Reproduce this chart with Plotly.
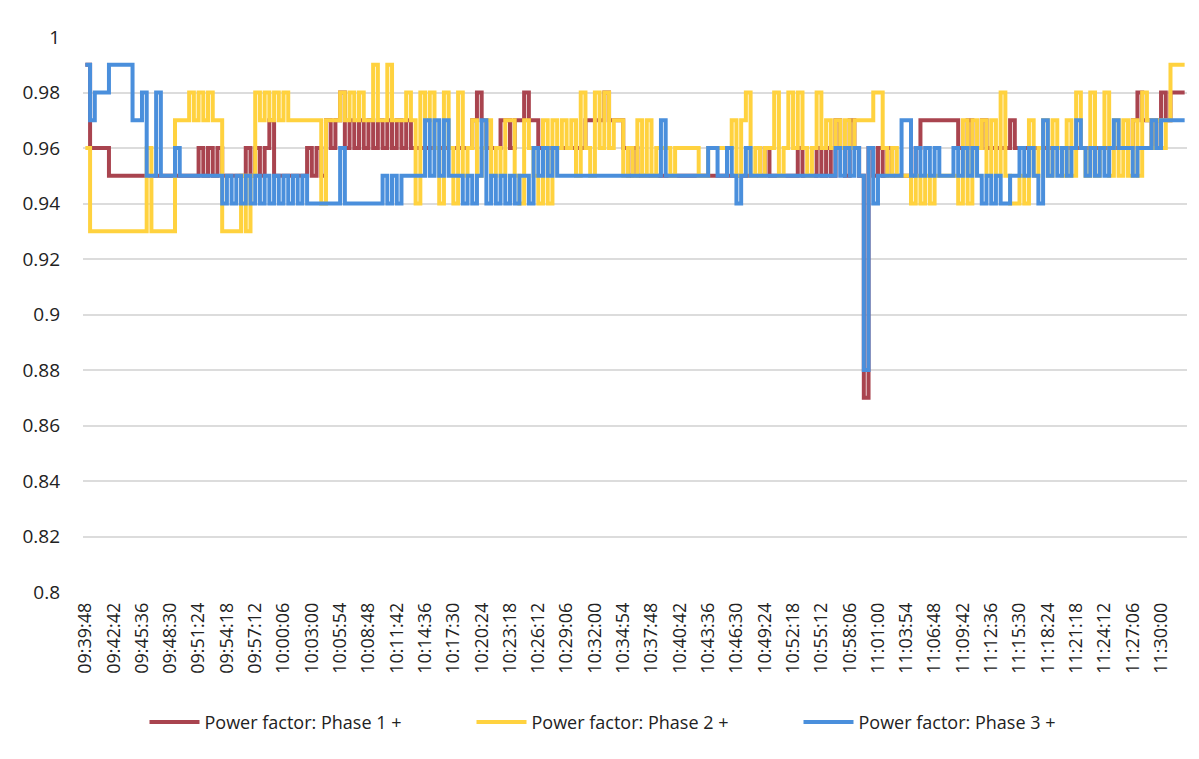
import datetime as dt
import plotly.graph_objects as go

START_TIME = "09:39:48"
SAMPLE_SECONDS = 29

TICK_LABELS = ["09:39:48", "09:42:42", "09:45:36", "09:48:30", "09:51:24", "09:54:18", "09:57:12",
               "10:00:06", "10:03:00", "10:05:54", "10:08:48", "10:11:42", "10:14:36", "10:17:30",
               "10:20:24", "10:23:18", "10:26:12", "10:29:06", "10:32:00", "10:34:54", "10:37:48",
               "10:40:42", "10:43:36", "10:46:30", "10:49:24", "10:52:18", "10:55:12", "10:58:06",
               "11:01:00", "11:03:54", "11:06:48", "11:09:42", "11:12:36", "11:15:30", "11:18:24",
               "11:21:18", "11:24:12", "11:27:06", "11:30:00"]

phase1 = [
    0.99, 0.96, 0.96, 0.96, 0.96, 0.95, 0.95, 0.95, 0.95, 0.95,
    0.95, 0.95, 0.95, 0.95, 0.95, 0.95, 0.95, 0.95, 0.95, 0.95,
    0.95, 0.95, 0.95, 0.95, 0.96, 0.95, 0.96, 0.95, 0.96, 0.95,
    0.95, 0.95, 0.95, 0.95, 0.96, 0.95, 0.96, 0.95, 0.96, 0.97,
    0.95, 0.95, 0.95, 0.95, 0.95, 0.95, 0.95, 0.96, 0.95, 0.96,
    0.95, 0.97, 0.96, 0.97, 0.98, 0.96, 0.97, 0.96, 0.97, 0.96,
    0.97, 0.96, 0.97, 0.96, 0.97, 0.96, 0.97, 0.96, 0.97, 0.96,
    0.96, 0.96, 0.96, 0.96, 0.96, 0.96, 0.96, 0.96, 0.96, 0.96,
    0.96, 0.96, 0.97, 0.98, 0.97, 0.96, 0.96, 0.96, 0.97, 0.97,
    0.96, 0.97, 0.97, 0.98, 0.97, 0.97, 0.96, 0.96, 0.96, 0.96,
    0.96, 0.96, 0.96, 0.96, 0.96, 0.96, 0.97, 0.97, 0.97, 0.97,
    0.98, 0.97, 0.97, 0.97, 0.96, 0.95, 0.96, 0.95, 0.95, 0.95,
    0.95, 0.95, 0.95, 0.95, 0.95, 0.95, 0.95, 0.95, 0.95, 0.95,
    0.95, 0.95, 0.95, 0.95, 0.95, 0.95, 0.95, 0.95, 0.95, 0.95,
    0.95, 0.95, 0.95, 0.95, 0.96, 0.95, 0.95, 0.95, 0.95, 0.95,
    0.95, 0.96, 0.95, 0.95, 0.95, 0.96, 0.95, 0.96, 0.95, 0.97,
    0.96, 0.95, 0.97, 0.96, 0.95, 0.87, 0.96, 0.95, 0.96, 0.95,
    0.96, 0.95, 0.95, 0.95, 0.95, 0.95, 0.96, 0.97, 0.97, 0.97,
    0.97, 0.97, 0.97, 0.97, 0.97, 0.96, 0.96, 0.97, 0.96, 0.96,
    0.97, 0.96, 0.96, 0.96, 0.96, 0.96, 0.97, 0.96, 0.96, 0.96,
    0.96, 0.96, 0.96, 0.96, 0.96, 0.96, 0.96, 0.96, 0.96, 0.96,
    0.96, 0.96, 0.96, 0.96, 0.96, 0.96, 0.96, 0.96, 0.96, 0.96,
    0.96, 0.96, 0.97, 0.98, 0.97, 0.97, 0.96, 0.97, 0.98, 0.97,
    0.98, 0.98, 0.98, 0.98,
]

phase2 = [
    0.96, 0.93, 0.93, 0.93, 0.93, 0.93, 0.93, 0.93, 0.93, 0.93,
    0.93, 0.93, 0.93, 0.96, 0.93, 0.93, 0.93, 0.93, 0.93, 0.97,
    0.97, 0.97, 0.98, 0.97, 0.98, 0.97, 0.98, 0.97, 0.97, 0.93,
    0.93, 0.93, 0.93, 0.95, 0.93, 0.95, 0.98, 0.97, 0.98, 0.97,
    0.98, 0.97, 0.98, 0.97, 0.97, 0.97, 0.97, 0.97, 0.97, 0.97,
    0.94, 0.97, 0.97, 0.97, 0.98, 0.97, 0.98, 0.97, 0.98, 0.97,
    0.97, 0.99, 0.97, 0.97, 0.99, 0.97, 0.97, 0.97, 0.98, 0.97,
    0.94, 0.98, 0.97, 0.98, 0.96, 0.94, 0.98, 0.96, 0.94, 0.98,
    0.95, 0.96, 0.97, 0.95, 0.96, 0.97, 0.95, 0.96, 0.95, 0.97,
    0.97, 0.95, 0.94, 0.97, 0.96, 0.95, 0.94, 0.97, 0.94, 0.97,
    0.96, 0.97, 0.96, 0.97, 0.95, 0.98, 0.96, 0.95, 0.98, 0.96,
    0.98, 0.96, 0.97, 0.97, 0.95, 0.96, 0.95, 0.97, 0.95, 0.97,
    0.95, 0.96, 0.96, 0.96, 0.95, 0.96, 0.96, 0.96, 0.96, 0.96,
    0.95, 0.95, 0.96, 0.96, 0.96, 0.96, 0.96, 0.97, 0.95, 0.97,
    0.98, 0.95, 0.96, 0.95, 0.96, 0.96, 0.98, 0.95, 0.96, 0.98,
    0.96, 0.98, 0.96, 0.95, 0.96, 0.98, 0.96, 0.97, 0.96, 0.97,
    0.96, 0.97, 0.96, 0.97, 0.97, 0.97, 0.97, 0.98, 0.98, 0.96,
    0.95, 0.96, 0.95, 0.95, 0.95, 0.94, 0.95, 0.94, 0.95, 0.94,
    0.95, 0.95, 0.95, 0.95, 0.95, 0.94, 0.97, 0.94, 0.97, 0.96,
    0.97, 0.95, 0.97, 0.95, 0.98, 0.95, 0.94, 0.94, 0.95, 0.94,
    0.97, 0.95, 0.96, 0.97, 0.95, 0.97, 0.96, 0.95, 0.97, 0.95,
    0.98, 0.96, 0.95, 0.98, 0.95, 0.96, 0.98, 0.95, 0.97, 0.95,
    0.97, 0.95, 0.97, 0.95, 0.98, 0.97, 0.96, 0.97, 0.96, 0.97,
    0.99, 0.99, 0.99, 0.99,
]

phase3 = [
    0.99, 0.97, 0.98, 0.98, 0.98, 0.99, 0.99, 0.99, 0.99, 0.99,
    0.97, 0.97, 0.98, 0.95, 0.95, 0.98, 0.95, 0.95, 0.95, 0.96,
    0.95, 0.95, 0.95, 0.95, 0.95, 0.95, 0.95, 0.95, 0.95, 0.94,
    0.95, 0.94, 0.95, 0.94, 0.95, 0.94, 0.95, 0.94, 0.95, 0.94,
    0.95, 0.94, 0.95, 0.94, 0.95, 0.94, 0.95, 0.94, 0.94, 0.94,
    0.94, 0.94, 0.94, 0.94, 0.96, 0.94, 0.94, 0.94, 0.94, 0.94,
    0.94, 0.94, 0.94, 0.95, 0.94, 0.95, 0.94, 0.95, 0.95, 0.95,
    0.95, 0.95, 0.97, 0.95, 0.97, 0.95, 0.97, 0.95, 0.95, 0.95,
    0.94, 0.95, 0.94, 0.95, 0.97, 0.94, 0.95, 0.94, 0.95, 0.94,
    0.95, 0.94, 0.95, 0.95, 0.94, 0.96, 0.95, 0.96, 0.95, 0.96,
    0.95, 0.95, 0.95, 0.95, 0.95, 0.95, 0.95, 0.95, 0.95, 0.95,
    0.95, 0.95, 0.95, 0.95, 0.95, 0.95, 0.95, 0.95, 0.95, 0.95,
    0.95, 0.95, 0.97, 0.95, 0.95, 0.95, 0.95, 0.95, 0.95, 0.95,
    0.95, 0.95, 0.96, 0.96, 0.95, 0.95, 0.96, 0.95, 0.94, 0.95,
    0.96, 0.95, 0.95, 0.95, 0.95, 0.95, 0.95, 0.95, 0.95, 0.95,
    0.95, 0.95, 0.95, 0.95, 0.95, 0.95, 0.95, 0.95, 0.95, 0.96,
    0.95, 0.96, 0.95, 0.96, 0.95, 0.88, 0.96, 0.94, 0.95, 0.95,
    0.95, 0.95, 0.95, 0.97, 0.97, 0.95, 0.96, 0.95, 0.96, 0.95,
    0.96, 0.95, 0.95, 0.95, 0.96, 0.95, 0.96, 0.95, 0.96, 0.95,
    0.94, 0.95, 0.94, 0.95, 0.94, 0.94, 0.95, 0.95, 0.96, 0.95,
    0.96, 0.95, 0.94, 0.97, 0.95, 0.96, 0.95, 0.96, 0.95, 0.96,
    0.97, 0.96, 0.95, 0.96, 0.95, 0.96, 0.95, 0.96, 0.97, 0.96,
    0.96, 0.96, 0.95, 0.96, 0.96, 0.96, 0.97, 0.96, 0.97, 0.97,
    0.97, 0.97, 0.97, 0.97,
]

SERIES_NAMES = ["Power factor: Phase 1 +", "Power factor: Phase 2 +", "Power factor: Phase 3 +"]
COLORS = ["#A9444F", "#FFD23F", "#4A8FDC"]

t0 = dt.datetime.strptime(START_TIME, "%H:%M:%S")
n = max(len(phase1), len(phase2), len(phase3))
times = [(t0 + dt.timedelta(seconds=SAMPLE_SECONDS * i)).strftime("%H:%M:%S") for i in range(n)]

fig = go.Figure()
for name, vals, col in zip(SERIES_NAMES, [phase1, phase2, phase3], COLORS):
    fig.add_trace(go.Scatter(
        x=times[:len(vals)], y=vals, mode="lines", name=name,
        line=dict(color=col, width=4, shape="hv"),
    ))

FONT = "Open Sans, Liberation Sans, sans-serif"
fig.update_layout(
    width=1199, height=759,
    margin=dict(l=75, r=20, t=29, b=175),
    paper_bgcolor="white", plot_bgcolor="white",
    font=dict(family=FONT, color="#222222", size=18),
    showlegend=True,
    legend=dict(orientation="h", x=0.5, xanchor="center", y=-0.235, yanchor="middle",
                font=dict(size=18, family=FONT, color="#222222"),
                entrywidth=262, itemwidth=50, traceorder="normal"),
    xaxis=dict(type="category", categoryorder="array", categoryarray=times,
               range=[-0.5, n - 0.5],
               tickmode="array", tickvals=TICK_LABELS, ticktext=TICK_LABELS,
               tickangle=-90, showgrid=False, zeroline=False, showline=False,
               ticks="", ticklabelstandoff=6,
               tickfont=dict(size=18, family=FONT, color="#222222")),
    yaxis=dict(range=[0.8, 1.0], dtick=0.02, tick0=0.8, showgrid=True,
               gridcolor="#DCDCDC", gridwidth=1.5, zeroline=False, showline=False,
               ticks="", ticklabelstandoff=22,
               tickfont=dict(size=19, family=FONT, color="#222222")),
)

fig.write_html("out.html")
